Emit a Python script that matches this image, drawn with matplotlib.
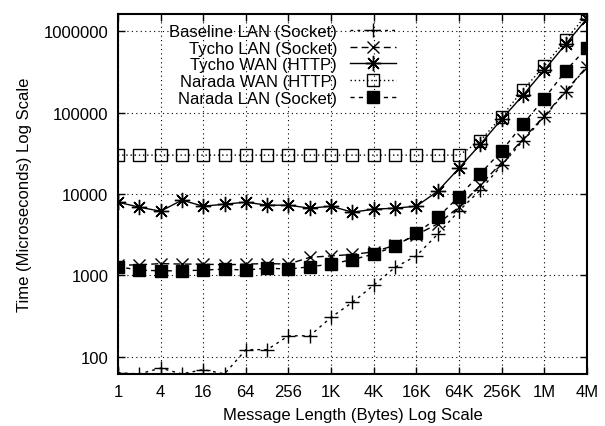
import numpy as np
import matplotlib
matplotlib.use('Agg')
import matplotlib.pyplot as plt
from matplotlib.ticker import FixedLocator, FixedFormatter, NullLocator

plt.rcParams['font.family'] = ['Liberation Sans', 'DejaVu Sans']

# message sizes 1 .. 4M bytes (powers of two)
sizes = 2.0 ** np.arange(23)

baseline_lan = [64, 62, 73, 62, 70, 62, 123, 123, 182, 182, 307, 468,
                762, 1257, 1743, 3210, 6210, 11200, 22500, 45000, 88000,
                180000, 360000]
tycho_lan = [1340, 1350, 1400, 1380, 1380, 1350, 1380, 1400, 1380, 1670,
             1740, 1810, 1950, 2350, 3150, 4300, 6900, 12800, 24300, 47000,
             90600, 183000, 365000]
tycho_wan = [7940, 6890, 6150, 8400, 7080, 7500, 7940, 7290, 7290, 6700,
             7080, 5980, 6510, 6700, 7080, 10800, 20700, 40700, 82600,
             162600, 332000, 685000, 1420000]
narada_wan = [30000] * 17 + [44800, 89100, 188900, 371500, 773000, 1600000]
narada_lan = [1280, 1165, 1142, 1142, 1165, 1197, 1165, 1232, 1197, 1280,
              1380, 1567, 1830, 2270, 3280, 5150, 9310, 17750, 33750, 71700,
              148000, 323000, 624000]

xticks = [4 ** i for i in range(12)]
xlabels = ['1', '4', '16', '64', '256', '1K', '4K', '16K', '64K', '256K',
           '1M', '4M']
yticks = [100, 1000, 10000, 100000, 1000000]
ylabels = ['100', '1000', '10000', '100000', '1000000']

fig = plt.figure(figsize=(6.05, 4.27), dpi=100)
ax = fig.add_axes([0.195, 0.122, 0.775, 0.843])

ax.plot(sizes, baseline_lan, color='k', lw=1, ls=(0, (2, 3)),
        marker='+', ms=10, mew=1, label='Baseline LAN (Socket)')
ax.plot(sizes, tycho_lan, color='k', lw=1, ls=(0, (5, 3)),
        marker='x', ms=8, mew=1, label='Tycho LAN (Socket)')
ax.plot(sizes, tycho_wan, color='k', lw=1, ls='-',
        marker=(8, 2, 0), ms=11, mew=1, label='Tycho WAN (HTTP)')
ax.plot(sizes, narada_wan, color='k', lw=1, ls=(0, (1, 2)),
        marker='s', ms=8, mew=1, mfc='none', label='Narada WAN (HTTP)')
ax.plot(sizes, narada_lan, color='k', lw=1, ls=(0, (3, 3)),
        marker='s', ms=8, mew=1, mfc='k', label='Narada LAN (Socket)')

ax.set_xscale('log', base=2)
ax.set_yscale('log')
ax.set_xlim(1, 2 ** 22)
ax.set_ylim(62, 1.62e6)

ax.xaxis.set_major_locator(FixedLocator(xticks))
ax.xaxis.set_major_formatter(FixedFormatter(xlabels))
ax.xaxis.set_minor_locator(NullLocator())
ax.yaxis.set_major_locator(FixedLocator(yticks))
ax.yaxis.set_major_formatter(FixedFormatter(ylabels))
ax.yaxis.set_minor_locator(NullLocator())

ax.tick_params(which='both', direction='in', top=True, right=True,
               length=5, width=1, labelsize=12, pad=7)
ax.grid(True, color='k', ls=(0, (1, 3)), lw=0.8)
for s in ax.spines.values():
    s.set_linewidth(1.5)

ax.set_xlabel('Message Length (Bytes) Log Scale', fontsize=12, labelpad=6)
ax.set_ylabel('Time (Microseconds) Log Scale', fontsize=12, labelpad=8)

leg = ax.legend(loc='upper right', bbox_to_anchor=(0.615, 1.0),
                markerfirst=False, frameon=False, fontsize=12,
                handlelength=2.8, handletextpad=0.75, labelspacing=0.1,
                borderaxespad=0.2)

fig.savefig('out.png', dpi=100)
